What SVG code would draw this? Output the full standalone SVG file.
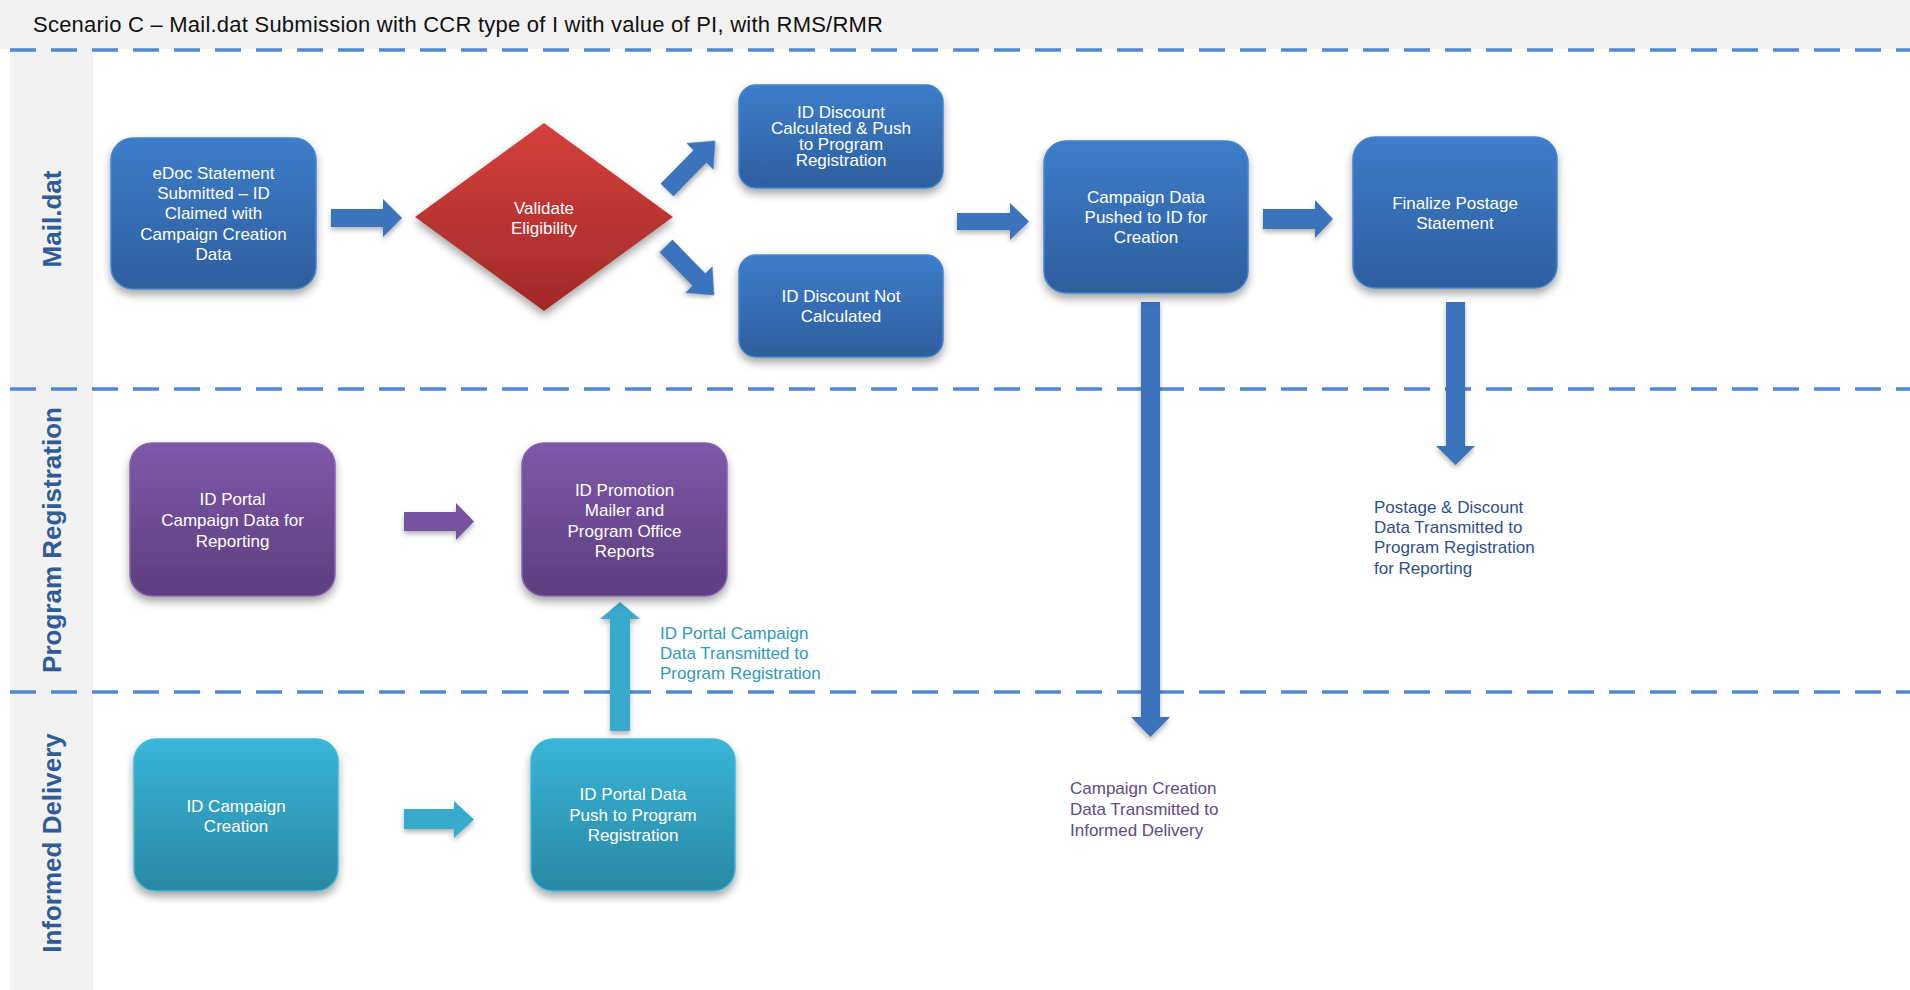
<svg xmlns="http://www.w3.org/2000/svg" width="1910" height="990" viewBox="0 0 1910 990">
<style>
.t{font-family:"Liberation Sans",Arial,sans-serif;font-size:17px;fill:#fff;text-anchor:middle}
.lane{font-family:"Liberation Sans",Arial,sans-serif;font-size:26px;font-weight:bold;fill:#2F5C98;text-anchor:middle}
.lbl{font-family:"Liberation Sans",Arial,sans-serif;font-size:17px}
.dash{stroke:#4F89D4;stroke-width:3.5;stroke-dasharray:26 15;fill:none}
.blue{fill:url(#gBlue);stroke:#4484CF;stroke-width:1.5;filter:url(#sh)}
.purple{fill:url(#gPurple);stroke:#8563AE;stroke-width:1.5;filter:url(#sh)}
.teal{fill:url(#gTeal);stroke:#3DB9DA;stroke-width:1.5;filter:url(#sh)}
.aBlue{fill:#3A73BD;filter:url(#sh2)}
.aPurple{fill:#7452A0;filter:url(#sh2)}
.aTeal{fill:#37AACB;filter:url(#sh2)}
</style>
<defs>
<linearGradient id="gBlue" x1="0" y1="0" x2="0" y2="1"><stop offset="0" stop-color="#3D7DCA"/><stop offset="1" stop-color="#2E5E9E"/></linearGradient>
<linearGradient id="gRed" x1="0" y1="0" x2="0" y2="1"><stop offset="0" stop-color="#D5403B"/><stop offset="1" stop-color="#A2292A"/></linearGradient>
<linearGradient id="gPurple" x1="0" y1="0" x2="0" y2="1"><stop offset="0" stop-color="#7E59A9"/><stop offset="1" stop-color="#5C3E7E"/></linearGradient>
<linearGradient id="gTeal" x1="0" y1="0" x2="0" y2="1"><stop offset="0" stop-color="#38B5D9"/><stop offset="1" stop-color="#2A88A3"/></linearGradient>
<filter id="sh" x="-20%" y="-20%" width="140%" height="150%"><feDropShadow dx="0" dy="5" stdDeviation="4" flood-color="#000" flood-opacity="0.35"/></filter>
<filter id="sh2" x="-30%" y="-30%" width="160%" height="160%"><feDropShadow dx="0" dy="3" stdDeviation="2.5" flood-color="#000" flood-opacity="0.3"/></filter>
</defs>
<rect x="0" y="0" width="1910" height="990" fill="#fff"/>
<g id="lanes">
<rect x="0" y="0" width="1910" height="49" fill="#F2F2F2"/>
<rect x="10" y="49" width="83" height="941" fill="#F2F2F2"/>
<text x="33" y="32" font-family="Liberation Sans, Arial, sans-serif" font-size="22" fill="#111" textLength="850" lengthAdjust="spacing">Scenario C – Mail.dat Submission with CCR type of I with value of PI, with RMS/RMR</text>
<line class="dash" x1="10" y1="50" x2="1910" y2="50"/>
<line class="dash" x1="10" y1="389" x2="1910" y2="389"/>
<line class="dash" x1="10" y1="692" x2="1910" y2="692"/>
<text class="lane" transform="translate(61 219) rotate(-90)">Mail.dat</text>
<text class="lane" transform="translate(61 540) rotate(-90)">Program Registration</text>
<text class="lane" transform="translate(61 843) rotate(-90)">Informed Delivery</text>
</g>
<g id="connectors">
<polygon class="aBlue" points="331,209 383,209 383,199 402,218 383,237 383,227 331,227"/>
<polygon class="aBlue" transform="translate(667 190) rotate(-45.6)" points="0,-9 47,-9 47,-19 69,0 47,19 47,9 0,9"/>
<polygon class="aBlue" transform="translate(666 246) rotate(45.6)" points="0,-9 47,-9 47,-19 69,0 47,19 47,9 0,9"/>
<polygon class="aBlue" points="957,213 1010,213 1010,203 1029,221.5 1010,240 1010,230 957,230"/>
<polygon class="aBlue" points="1263,209 1315,209 1315,200 1333,219 1315,238 1315,229 1263,229"/>
<polygon class="aBlue" points="1141,302 1160,302 1160,717 1170,717 1150.5,737 1131,717 1141,717"/>
<polygon class="aBlue" points="1446,302 1465,302 1465,446 1475,446 1455.5,465 1436,446 1446,446"/>
<polygon class="aPurple" points="404,512 456,512 456,503 474,521.5 456,540 456,531 404,531"/>
<polygon class="aTeal" points="404,809 454,809 454,801 474,819.5 454,838 454,829 404,829"/>
<polygon class="aTeal" points="610,731 610,619 600,619 620,602 640,619 630,619 630,731"/>
</g>
<g id="n-edoc">
<rect class="blue" x="111" y="138" width="205" height="151" rx="22"/>
<text class="t"><tspan x="213.5" y="179">eDoc Statement</tspan><tspan x="213.5" y="199">Submitted – ID</tspan><tspan x="213.5" y="219">Claimed with</tspan><tspan x="213.5" y="240">Campaign Creation</tspan><tspan x="213.5" y="260">Data</tspan></text>
</g>
<g id="n-validate">
<polygon points="544,123 673,217 544,311 415,217" fill="url(#gRed)" filter="url(#sh)"/>
<text class="t"><tspan x="544" y="214">Validate</tspan><tspan x="544" y="234">Eligibility</tspan></text>
</g>
<g id="n-calc">
<rect class="blue" x="739" y="85" width="204" height="103" rx="17"/>
<text class="t"><tspan x="841" y="118">ID Discount</tspan><tspan x="841" y="134">Calculated &amp; Push</tspan><tspan x="841" y="150">to Program</tspan><tspan x="841" y="166">Registration</tspan></text>
</g>
<g id="n-notcalc">
<rect class="blue" x="739" y="255" width="204" height="102" rx="17"/>
<text class="t"><tspan x="841" y="302">ID Discount Not</tspan><tspan x="841" y="322">Calculated</tspan></text>
</g>
<g id="n-campaign">
<rect class="blue" x="1044" y="141" width="204" height="152" rx="22"/>
<text class="t"><tspan x="1146" y="203">Campaign Data</tspan><tspan x="1146" y="223">Pushed to ID for</tspan><tspan x="1146" y="243">Creation</tspan></text>
</g>
<g id="n-finalize">
<rect class="blue" x="1353" y="137" width="204" height="151" rx="22"/>
<text class="t"><tspan x="1455" y="209">Finalize Postage</tspan><tspan x="1455" y="229">Statement</tspan></text>
</g>
<g id="n-portal-reporting">
<rect class="purple" x="130" y="443" width="205" height="153" rx="22"/>
<text class="t"><tspan x="232.5" y="505">ID Portal</tspan><tspan x="232.5" y="526">Campaign Data for</tspan><tspan x="232.5" y="547">Reporting</tspan></text>
</g>
<g id="n-promotion">
<rect class="purple" x="522" y="443" width="205" height="153" rx="22"/>
<text class="t"><tspan x="624.5" y="496">ID Promotion</tspan><tspan x="624.5" y="516">Mailer and</tspan><tspan x="624.5" y="537">Program Office</tspan><tspan x="624.5" y="557">Reports</tspan></text>
</g>
<g id="n-id-campaign">
<rect class="teal" x="134" y="739" width="204" height="152" rx="22"/>
<text class="t"><tspan x="236" y="812">ID Campaign</tspan><tspan x="236" y="832">Creation</tspan></text>
</g>
<g id="n-portal-push">
<rect class="teal" x="531" y="739" width="204" height="152" rx="22"/>
<text class="t"><tspan x="633" y="800">ID Portal Data</tspan><tspan x="633" y="821">Push to Program</tspan><tspan x="633" y="841">Registration</tspan></text>
</g>
<g id="labels">
<text class="lbl" fill="#2E9AB8"><tspan x="660" y="639">ID Portal Campaign</tspan><tspan x="660" y="659">Data Transmitted to</tspan><tspan x="660" y="679">Program Registration</tspan></text>
<text class="lbl" fill="#2E5090"><tspan x="1374" y="513">Postage &amp; Discount</tspan><tspan x="1374" y="533">Data Transmitted to</tspan><tspan x="1374" y="553">Program Registration</tspan><tspan x="1374" y="574">for Reporting</tspan></text>
<text class="lbl" fill="#604A86"><tspan x="1070" y="794">Campaign Creation</tspan><tspan x="1070" y="815">Data Transmitted to</tspan><tspan x="1070" y="836">Informed Delivery</tspan></text>
</g>
</svg>
